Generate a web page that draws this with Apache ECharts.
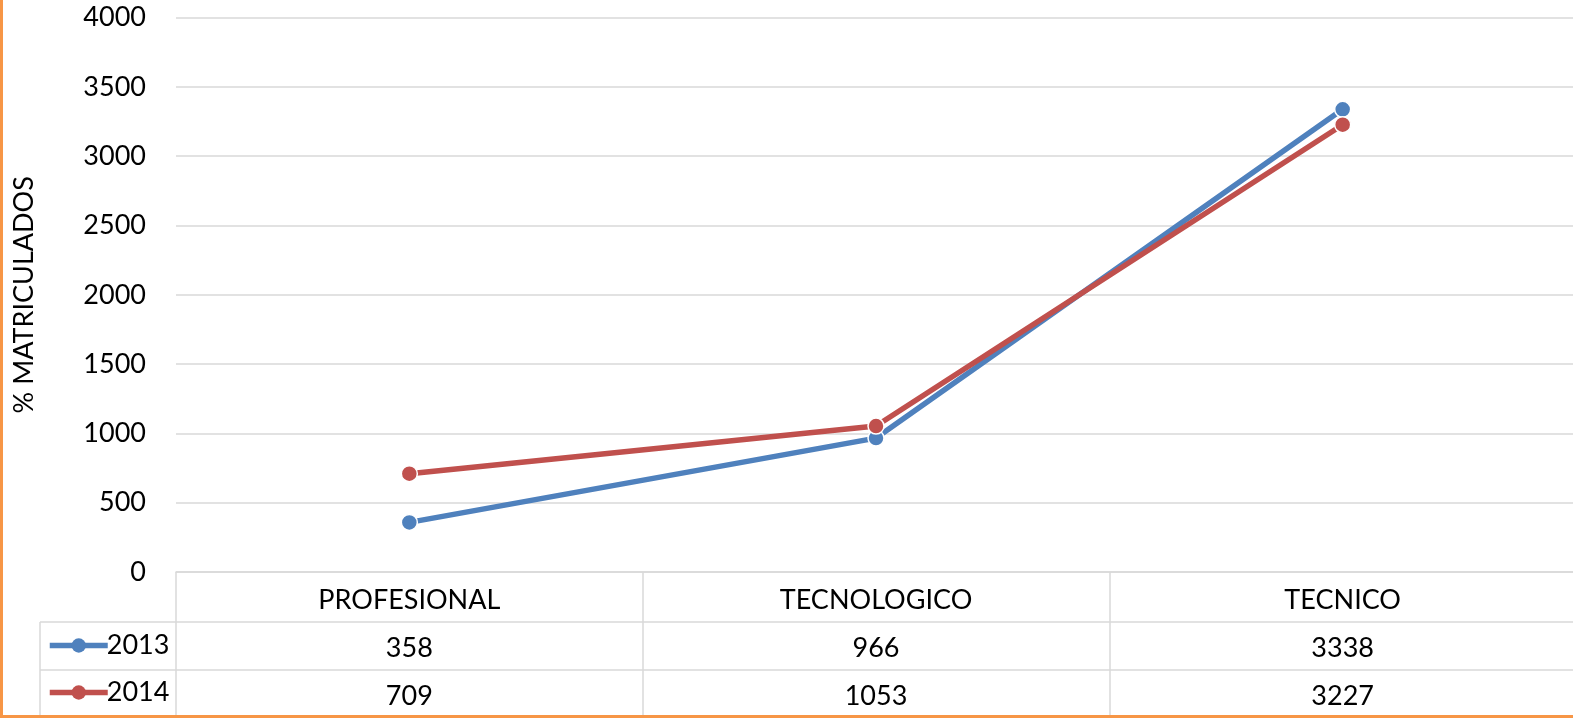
<!DOCTYPE html>
<html>
<head>
<meta charset="utf-8">
<script src="https://cdn.jsdelivr.net/npm/echarts@6/dist/echarts.min.js"></script>
<style>
  html, body { margin: 0; padding: 0; background: #fff; }
  #chart { width: 1573px; height: 718px; }
</style>
</head>
<body>
<div id="chart"></div>
<script>
const categories = ['PROFESIONAL', 'TECNOLOGICO', 'TECNICO'];
const series2013 = [358, 966, 3338];
const series2014 = [709, 1053, 3227];
const seriesNames = ['2013', '2014'];
const yTicks = { min: 0, max: 4000, interval: 500 };

const BLUE = '#4F81BD';
const RED = '#C0504D';
const GRID_COLOR = '#D9D9D9';
const FONT = 'Lato';

var chart = echarts.init(document.getElementById('chart'));

function lineSeries(name, data, color) {
  return {
    name: name,
    type: 'line',
    data: data,
    symbol: 'circle',
    symbolSize: 16,
    lineStyle: { color: color, width: 5.5 },
    itemStyle: { color: color, borderColor: '#fff', borderWidth: 1.5 },
    emphasis: { disabled: true },
    z: name === '2014' ? 3 : 2
  };
}

// one legend per table row, so each sits in its own row
function rowLegend(name, top) {
  return {
    orient: 'horizontal',
    left: 42,
    top: top,
    itemWidth: 58,
    itemHeight: 18,
    data: [name],
    lineStyle: { width: 5.5 },
    itemStyle: { borderWidth: 0 },
    textStyle: { fontFamily: FONT, fontSize: 27, color: '#000', padding: [0, 0, 0, -6] }
  };
}

var option = {
  animation: false,
  textStyle: { fontFamily: FONT },
  grid: { left: 176, top: 17.6, width: 1400, height: 554.4, outerBoundsMode: 'none', containLabel: false },
  legend: [rowLegend(seriesNames[0], 627), rowLegend(seriesNames[1], 674)],
  xAxis: {
    type: 'category',
    data: categories,
    boundaryGap: true,
    axisLine: { lineStyle: { color: GRID_COLOR, width: 1.5 } },
    axisTick: { show: true, length: 144, interval: 0, lineStyle: { color: GRID_COLOR, width: 1.5 } },
    axisLabel: {
      interval: 0,
      margin: 4,
      formatter: function (v, i) {
        return '{c|' + v + '}\n{c|' + series2013[i] + '}\n{c|' + series2014[i] + '}';
      },
      rich: {
        c: { fontFamily: FONT, fontSize: 27, color: '#000', lineHeight: 48 }
      }
    }
  },
  yAxis: {
    type: 'value',
    min: yTicks.min,
    max: yTicks.max,
    interval: yTicks.interval,
    name: '% MATRICULADOS',
    nameLocation: 'middle',
    nameGap: 138,
    nameRotate: 90,
    nameTextStyle: { fontFamily: FONT, fontSize: 27, color: '#000' },
    axisLine: { show: false },
    axisTick: { show: false },
    axisLabel: {
      margin: 30, fontFamily: FONT, fontSize: 27, color: '#000',
      formatter: function (v) { return String(v); }
    },
    splitLine: { lineStyle: { color: GRID_COLOR, width: 1.5 } }
  },
  graphic: [
    { type: 'line', shape: { x1: 40, y1: 622, x2: 1573, y2: 622 }, style: { stroke: GRID_COLOR, lineWidth: 1.5 } },
    { type: 'line', shape: { x1: 40, y1: 670, x2: 1573, y2: 670 }, style: { stroke: GRID_COLOR, lineWidth: 1.5 } },
    { type: 'line', shape: { x1: 40, y1: 622, x2: 40, y2: 718 }, style: { stroke: GRID_COLOR, lineWidth: 1.5 } },
    { type: 'rect', shape: { x: 0, y: 0, width: 3, height: 718 }, style: { fill: '#F79646' }, z: 100 },
    { type: 'rect', shape: { x: 0, y: 715, width: 1573, height: 3 }, style: { fill: '#F79646' }, z: 100 }
  ],
  series: [
    lineSeries('2013', series2013, BLUE),
    lineSeries('2014', series2014, RED)
  ]
};

chart.setOption(option);
</script>
</body>
</html>
